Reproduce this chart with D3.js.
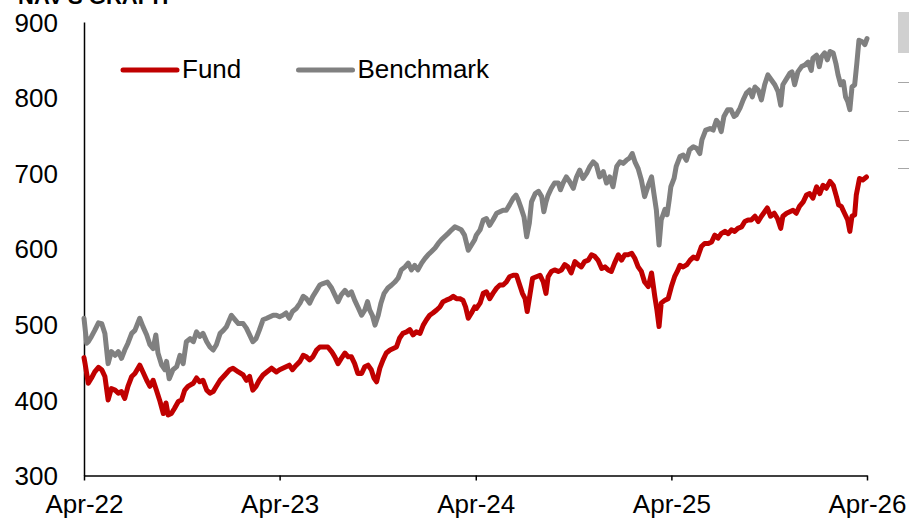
<!DOCTYPE html>
<html>
<head>
<meta charset="utf-8">
<script src="https://cdn.jsdelivr.net/npm/d3@7"></script>
<style>
  body { margin: 0; background: #fff; }
  svg { display: block; font-family: "Liberation Sans", Arial, sans-serif; }
</style>
</head>
<body>
<svg id="navChart" width="909" height="521"></svg>
<script>
// values
const seriesNames = ["Fund", "Benchmark"];
const tickDates = ["2022-04-01", "2023-04-01", "2024-04-01", "2025-04-01", "2026-04-01"];
const tickLabels = ["Apr-22", "Apr-23", "Apr-24", "Apr-25", "Apr-26"];
const yTicks = [300, 400, 500, 600, 700, 800, 900];

const fundDates = [
  "2022-04-01","2022-04-03","2022-04-09","2022-04-15","2022-04-21","2022-04-28","2022-05-04","2022-05-10","2022-05-16","2022-05-22",
  "2022-05-29","2022-06-04","2022-06-10","2022-06-16","2022-06-22","2022-06-29","2022-07-05","2022-07-14","2022-07-20","2022-07-27",
  "2022-08-02","2022-08-08","2022-08-14","2022-08-20","2022-08-27","2022-09-01","2022-09-05","2022-09-11","2022-09-17","2022-09-24",
  "2022-09-30","2022-10-06","2022-10-12","2022-10-22","2022-10-28","2022-11-03","2022-11-09","2022-11-16","2022-11-22","2022-11-28",
  "2022-12-04","2022-12-11","2022-12-20","2022-12-29","2023-01-04","2023-01-14","2023-01-23","2023-01-29","2023-02-04","2023-02-10",
  "2023-02-16","2023-02-22","2023-03-01","2023-03-08","2023-03-17","2023-03-26",
  "2023-04-01","2023-04-07","2023-04-13","2023-04-19","2023-04-25","2023-05-02","2023-05-09","2023-05-15","2023-05-21","2023-05-27",
  "2023-06-02","2023-06-09","2023-06-15","2023-06-21","2023-06-30","2023-07-07","2023-07-13","2023-07-19","2023-07-25","2023-08-01",
  "2023-08-07","2023-08-13","2023-08-19","2023-08-25","2023-09-01","2023-09-07","2023-09-13","2023-09-19","2023-09-24","2023-09-29",
  "2023-10-05","2023-10-11","2023-10-17","2023-10-24","2023-10-30","2023-11-05","2023-11-11","2023-11-17","2023-11-24","2023-11-30",
  "2023-12-06","2023-12-12","2023-12-19","2023-12-25","2023-12-31","2024-01-06","2024-01-12","2024-01-19","2024-01-25","2024-01-31",
  "2024-02-06","2024-02-13","2024-02-19","2024-02-25","2024-03-02","2024-03-08","2024-03-13","2024-03-18","2024-03-24","2024-03-30",
  "2024-04-02","2024-04-09","2024-04-15","2024-04-21","2024-04-27","2024-05-03","2024-05-10","2024-05-16","2024-05-22","2024-05-28",
  "2024-06-03","2024-06-10","2024-06-16","2024-06-21","2024-06-27","2024-07-02","2024-07-06","2024-07-11","2024-07-16","2024-07-23",
  "2024-07-30","2024-08-05","2024-08-10","2024-08-14","2024-08-20","2024-08-26","2024-09-02","2024-09-08","2024-09-14","2024-09-20",
  "2024-09-26","2024-10-03","2024-10-09","2024-10-15","2024-10-21","2024-10-28","2024-11-03","2024-11-09","2024-11-15","2024-11-22",
  "2024-11-28","2024-12-04","2024-12-10","2024-12-16","2024-12-23","2024-12-29","2025-01-04","2025-01-10","2025-01-17","2025-01-23",
  "2025-01-29","2025-02-04","2025-02-10","2025-02-17","2025-02-23","2025-03-01","2025-03-05","2025-03-09","2025-03-13","2025-03-20",
  "2025-03-26","2025-04-01","2025-04-07","2025-04-12","2025-04-17","2025-04-23","2025-04-30","2025-05-06","2025-05-12","2025-05-19",
  "2025-05-27","2025-06-02","2025-06-09","2025-06-15","2025-06-21","2025-06-27","2025-07-03","2025-07-10","2025-07-16","2025-07-22",
  "2025-07-28","2025-08-03","2025-08-10","2025-08-16","2025-08-22","2025-08-28","2025-09-04","2025-09-10","2025-09-16","2025-09-22",
  "2025-09-27","2025-10-03","2025-10-10","2025-10-16","2025-10-22","2025-10-26","2025-11-02","2025-11-08","2025-11-14","2025-11-20",
  "2025-11-26","2025-12-03","2025-12-09","2025-12-15","2025-12-21","2025-12-28","2026-01-03","2026-01-09","2026-01-15","2026-01-22",
  "2026-01-28","2026-02-03","2026-02-07","2026-02-12","2026-02-18","2026-02-24","2026-02-28","2026-03-04","2026-03-09","2026-03-12",
  "2026-03-18","2026-03-24","2026-03-31"
];
const fundValues = [
  456,448,422,429,437,443,440,431,400,415,
  413,409,411,402,418,431,435,446,437,426,
  418,426,413,400,382,396,380,382,389,398,
  400,413,418,422,429,424,426,413,409,411,
  418,426,433,440,442,437,433,426,431,413,
  418,426,433,437,442,437,
  440,442,444,446,440,446,451,459,457,453,
  457,466,470,470,470,464,457,448,455,462,
  457,457,448,435,435,444,446,440,429,424,
  442,453,462,466,468,470,482,488,490,493,
  486,490,488,499,506,512,515,519,523,530,
  532,534,537,534,534,532,523,508,515,523,
  521,528,541,543,534,541,548,552,552,556,
  563,565,565,554,541,534,517,539,561,563,
  565,556,541,563,570,572,570,572,579,576,
  568,583,579,576,583,585,592,590,585,574,
  576,572,570,581,592,585,592,592,594,587,
  576,570,556,550,568,537,519,497,528,532,
  534,550,563,570,578,576,579,585,589,587,
  603,607,607,609,618,614,620,623,620,625,
  623,627,629,636,638,638,643,636,643,649,
  654,643,647,640,627,643,647,649,651,647,
  656,662,671,673,667,682,673,684,680,689,
  684,669,658,656,647,638,623,643,645,671,
  693,691,695
];

const benchDates = [
  "2022-04-01","2022-04-06","2022-04-09","2022-04-15","2022-04-21","2022-04-28","2022-05-04","2022-05-10","2022-05-16","2022-05-22",
  "2022-05-29","2022-06-04","2022-06-10","2022-06-16","2022-06-22","2022-06-29","2022-07-05","2022-07-14","2022-07-20","2022-07-27",
  "2022-08-02","2022-08-08","2022-08-13","2022-08-17","2022-08-24","2022-08-30","2022-09-02","2022-09-07","2022-09-14","2022-09-21",
  "2022-09-27","2022-10-03","2022-10-09","2022-10-16","2022-10-22","2022-10-28","2022-11-03","2022-11-09","2022-11-16","2022-11-22",
  "2022-11-28","2022-12-04","2022-12-11","2022-12-17","2022-12-23","2023-01-01","2023-01-08","2023-01-14","2023-01-23","2023-01-29",
  "2023-02-04","2023-02-10","2023-02-16","2023-02-22","2023-03-01","2023-03-08","2023-03-14","2023-03-20","2023-03-26",
  "2023-04-01","2023-04-07","2023-04-13","2023-04-19","2023-04-25","2023-05-02","2023-05-09","2023-05-15","2023-05-21","2023-05-27",
  "2023-06-02","2023-06-09","2023-06-15","2023-06-21","2023-06-29","2023-07-07","2023-07-13","2023-07-19","2023-07-25","2023-08-01",
  "2023-08-07","2023-08-13","2023-08-19","2023-08-25","2023-09-01","2023-09-07","2023-09-12","2023-09-16","2023-09-21","2023-09-26",
  "2023-10-02","2023-10-07","2023-10-13","2023-10-20","2023-10-27","2023-11-02","2023-11-08","2023-11-14","2023-11-21","2023-11-27",
  "2023-12-03","2023-12-09","2023-12-15","2023-12-22","2023-12-28","2024-01-03","2024-01-09","2024-01-16","2024-01-22","2024-01-28",
  "2024-02-03","2024-02-09","2024-02-16","2024-02-22","2024-02-28","2024-03-05","2024-03-11","2024-03-18","2024-03-24","2024-03-30",
  "2024-04-02","2024-04-09","2024-04-15","2024-04-21","2024-04-27","2024-05-03","2024-05-10","2024-05-16","2024-05-22","2024-05-28",
  "2024-06-03","2024-06-10","2024-06-15","2024-06-19","2024-06-25","2024-06-30","2024-07-05","2024-07-10","2024-07-14","2024-07-21",
  "2024-07-27","2024-08-02","2024-08-06","2024-08-10","2024-08-14","2024-08-20","2024-08-26","2024-09-02","2024-09-06","2024-09-11",
  "2024-09-17","2024-09-23","2024-09-30","2024-10-06","2024-10-12","2024-10-18","2024-10-25","2024-10-31","2024-11-06","2024-11-12",
  "2024-11-18","2024-11-25","2024-12-01","2024-12-07","2024-12-13","2024-12-20","2024-12-26","2025-01-01","2025-01-07","2025-01-13",
  "2025-01-18","2025-01-23","2025-01-29","2025-02-04","2025-02-10","2025-02-17","2025-02-23","2025-02-27","2025-03-04","2025-03-09",
  "2025-03-13","2025-03-20","2025-03-24","2025-03-28","2025-03-31","2025-04-06","2025-04-10","2025-04-17","2025-04-23","2025-04-29",
  "2025-05-05","2025-05-12","2025-05-18","2025-05-24","2025-05-28","2025-06-04","2025-06-12","2025-06-18","2025-06-24","2025-06-28",
  "2025-07-03","2025-07-08","2025-07-15","2025-07-21","2025-07-27","2025-07-31","2025-08-07","2025-08-13","2025-08-19","2025-08-25",
  "2025-08-30","2025-09-04","2025-09-10","2025-09-16","2025-09-22","2025-09-28","2025-10-05","2025-10-11","2025-10-17","2025-10-22",
  "2025-10-26","2025-11-02","2025-11-08","2025-11-12","2025-11-17","2025-11-23","2025-11-30","2025-12-06","2025-12-12","2025-12-18",
  "2025-12-21","2025-12-28","2026-01-02","2026-01-06","2026-01-12","2026-01-17","2026-01-22","2026-01-28","2026-02-02","2026-02-06",
  "2026-02-11","2026-02-16","2026-02-20","2026-02-24","2026-02-28","2026-03-04","2026-03-09","2026-03-13","2026-03-17","2026-03-23",
  "2026-03-28","2026-04-01"
];
const benchValues = [
  508,475,477,484,492,502,501,488,448,464,
  459,464,455,466,475,488,492,508,497,486,
  473,468,486,462,446,440,451,428,440,444,
  459,448,477,481,477,490,484,488,477,470,
  466,473,488,492,497,512,506,501,501,495,
  486,477,481,492,506,508,510,512,512,
  510,512,515,508,517,521,528,537,534,528,
  537,545,552,554,556,548,539,530,539,545,
  539,543,532,523,512,519,530,519,512,499,
  512,528,541,548,552,556,561,572,576,581,
  572,578,572,581,587,592,596,601,607,612,
  616,620,625,629,627,625,618,598,605,612,
  618,625,638,640,631,638,647,649,651,651,
  658,667,671,665,653,642,616,634,662,673,
  676,669,649,662,671,680,687,687,678,687,
  695,689,680,695,704,693,700,709,715,711,
  695,702,687,695,682,709,715,713,717,720,
  726,715,706,691,669,684,695,675,651,605,
  638,652,645,665,682,693,709,722,724,717,
  731,735,733,726,744,757,759,757,770,766,
  755,775,784,784,775,777,786,797,806,810,
  801,814,810,797,817,830,823,817,808,790,
  817,825,832,834,817,834,841,843,847,836,
  852,856,841,854,859,850,861,859,845,830,
  817,821,801,795,784,814,817,845,876,874,
  870,878
];

const colors = {Fund: "#c00000", Benchmark: "#808080"};

const svg = d3.select("#navChart"),
    margin = {top: 22, right: 42, bottom: 45.5, left: 84},
    width = 909 - margin.left - margin.right,
    height = 521 - margin.top - margin.bottom;

const parseDate = d3.timeParse("%Y-%m-%d");

const fund = fundDates.map((d, i) => ({date: parseDate(d), value: fundValues[i]}));
const bench = benchDates.map((d, i) => ({date: parseDate(d), value: benchValues[i]}));

const x = d3.scaleTime()
    .domain([parseDate(tickDates[0]), parseDate(tickDates[tickDates.length - 1])])
    .range([0, width]);

const y = d3.scaleLinear()
    .domain([yTicks[0], yTicks[yTicks.length - 1]])
    .range([height, 0]);

// title, mostly cut off at the top of the picture (as in the source)
svg.append("text")
    .attr("x", 18)
    .attr("y", 4)
    .attr("font-weight", "bold")
    .attr("font-size", "22px")
    .attr("fill", "#000")
    .text("NAV'S GRAPH");

const g = svg.append("g")
    .attr("transform", "translate(" + margin.left + "," + margin.top + ")");

// x axis
g.append("g")
    .attr("class", "xAxis")
    .attr("transform", "translate(0," + height + ")")
    .call(d3.axisBottom(x)
        .tickValues(tickDates.map(parseDate))
        .tickFormat((d, i) => tickLabels[i])
        .tickSizeInner(5)
        .tickSizeOuter(0))
    .attr("font-family", null)
    .attr("font-size", 26)
    .call(a => {
        a.select(".domain").attr("stroke", "#000").attr("stroke-width", 1.5);
        a.selectAll(".tick line").attr("stroke", "#000").attr("stroke-width", 1.5);
        a.selectAll(".tick text").attr("y", 37.5).attr("dy", 0).attr("fill", "#000");
    });

// y axis
g.append("g")
    .attr("class", "yAxis")
    .call(d3.axisLeft(y)
        .tickValues(yTicks)
        .tickSize(0)
        .tickPadding(26))
    .attr("font-family", null)
    .attr("font-size", 26)
    .call(a => {
        a.select(".domain").attr("stroke", "#000").attr("stroke-width", 1.5);
        a.selectAll(".tick text").attr("dy", "0.35em").attr("fill", "#000");
    });

const line = d3.line()
    .x(d => x(d.date))
    .y(d => y(d.value));

g.append("path")
    .datum(bench)
    .attr("fill", "none")
    .attr("stroke", colors.Benchmark)
    .attr("stroke-width", 5)
    .attr("stroke-linejoin", "round")
    .attr("stroke-linecap", "round")
    .attr("d", line);

g.append("path")
    .datum(fund)
    .attr("fill", "none")
    .attr("stroke", colors.Fund)
    .attr("stroke-width", 5)
    .attr("stroke-linejoin", "round")
    .attr("stroke-linecap", "round")
    .attr("d", line);

// legend
const legendX = [123, 298.5];
const legend = svg.append("g");
seriesNames.forEach((name, i) => {
    legend.append("line")
        .attr("x1", legendX[i])
        .attr("x2", legendX[i] + 54)
        .attr("y1", 70)
        .attr("y2", 70)
        .attr("stroke", colors[name])
        .attr("stroke-width", 5)
        .attr("stroke-linecap", "round");
    legend.append("text")
        .attr("x", legendX[i] + 59)
        .attr("y", 78)
        .attr("font-size", "26px")
        .attr("fill", "#000")
        .text(name);
});

// bits of a neighbouring table cut off at the right edge
svg.append("rect")
    .attr("x", 898)
    .attr("y", 12)
    .attr("width", 11)
    .attr("height", 41)
    .attr("fill", "#d0d0d0");

[82, 111, 140, 168].forEach(yy => {
    svg.append("line")
        .attr("x1", 898)
        .attr("x2", 909)
        .attr("y1", yy + 0.5)
        .attr("y2", yy + 0.5)
        .attr("stroke", "#a6a6a6")
        .attr("stroke-width", 1);
});
</script>
</body>
</html>
